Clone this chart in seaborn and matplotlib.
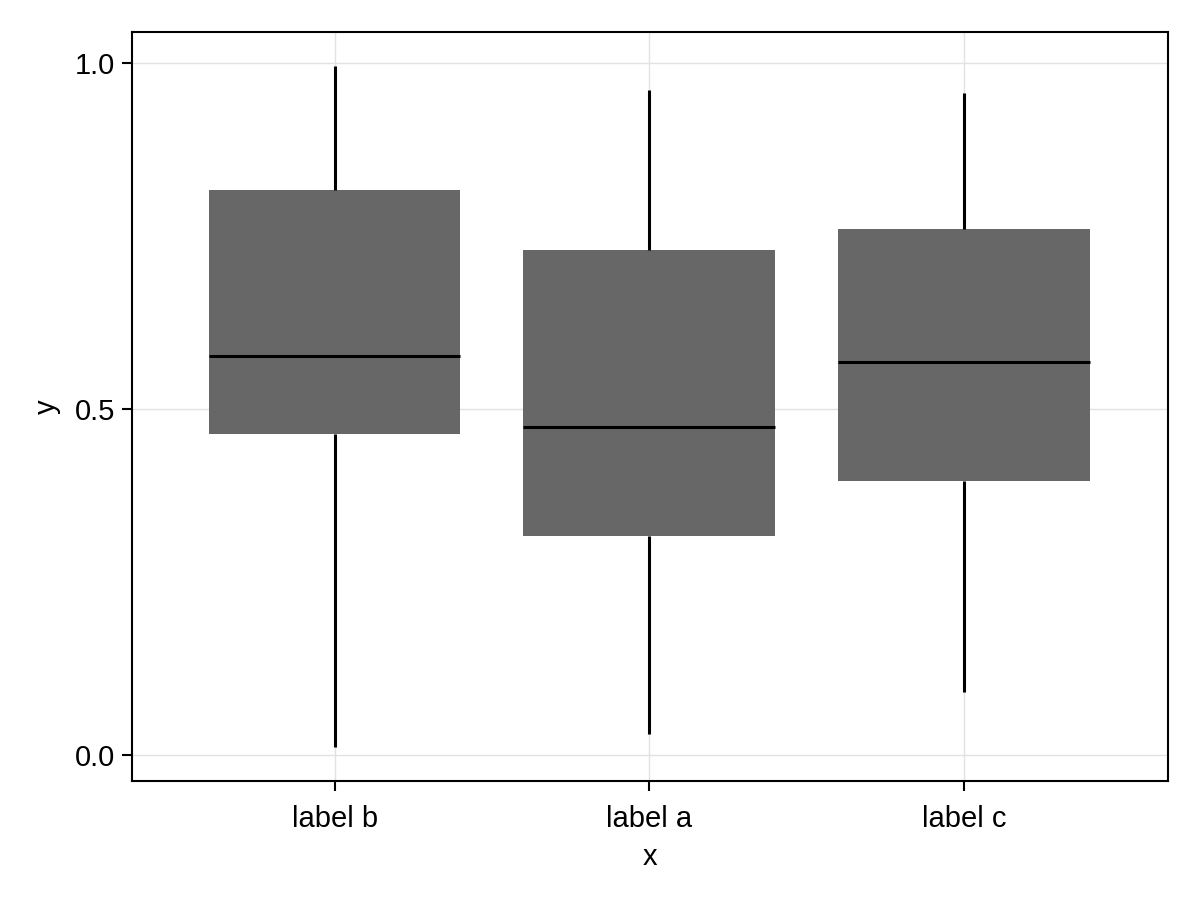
import seaborn as sns
import matplotlib.pyplot as plt
import pandas as pd

sns.set_theme(style="white")
plt.rcParams['font.family'] = ['Liberation Sans', 'DejaVu Sans']

labels = ["label b", "label a", "label c"]
# five-number summaries: min, q1, median, q3, max
summary_b = [0.012, 0.464, 0.577, 0.817, 0.996]
summary_a = [0.030, 0.317, 0.474, 0.730, 0.961]
summary_c = [0.092, 0.396, 0.569, 0.760, 0.957]

df = pd.DataFrame({
    "x": [labels[0]] * 5 + [labels[1]] * 5 + [labels[2]] * 5,
    "y": summary_b + summary_a + summary_c,
})

fig = plt.figure(figsize=(6, 4.5), dpi=200)
ax = fig.add_axes([0.11, 0.132, 0.863, 0.832])

sns.boxplot(data=df, x="x", y="y", order=labels, whis=(0, 100), width=0.8,
            color="#676767", saturation=1, ax=ax,
            boxprops=dict(linewidth=0, facecolor="#676767", edgecolor="none"),
            medianprops=dict(color="black", linewidth=1.1),
            whiskerprops=dict(color="black", linewidth=1.1),
            capprops=dict(linewidth=0), showcaps=False, showfliers=False)

ax.set_xlim(-0.644, 2.648)
ax.set_ylim(-0.0376, 1.0448)
ax.set_yticks([0.0, 0.5, 1.0])
ax.set_yticklabels(["0.0", "0.5", "1.0"])
ax.set_axisbelow(True)
ax.grid(True, color="#e2e2e2", linewidth=0.5)
for s in ax.spines.values():
    s.set_visible(True)
    s.set_color("black")
    s.set_linewidth(0.75)
ax.tick_params(axis="both", which="major", direction="out", length=3.5,
               width=0.75, color="black", labelcolor="black", labelsize=10.5,
               bottom=True, left=True)
ax.tick_params(axis="x", pad=5)
ax.tick_params(axis="y", pad=2.5)
ax.set_xlabel("x", fontsize=10.5, labelpad=3.5, color="black")
ax.set_ylabel("y", fontsize=10.5, labelpad=5, color="black")

fig.savefig("out.png", dpi=200)
